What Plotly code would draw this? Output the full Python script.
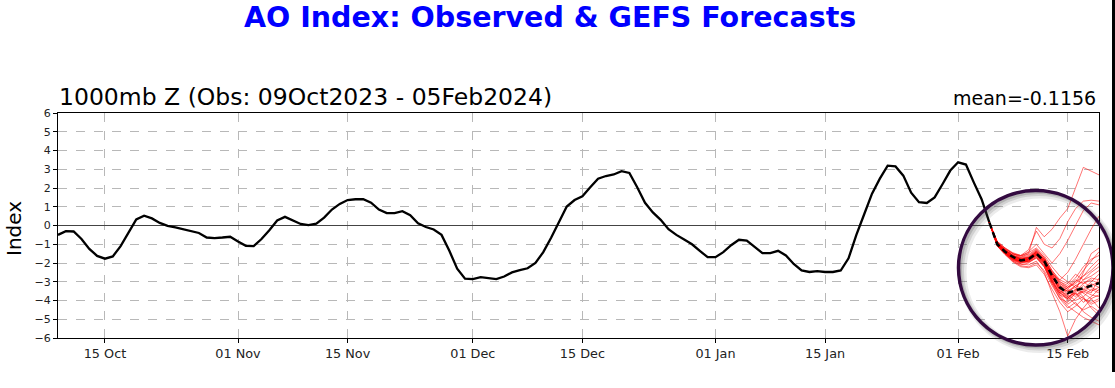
import pandas as pd
import plotly.graph_objects as go

# ---------------- data ----------------
obs_start = "2023-10-09"
obs_values = [
    -0.5, -0.3, -0.32, -0.72, -1.25, -1.62, -1.77, -1.65, -1.1, -0.35,
    0.32, 0.52, 0.38, 0.14, -0.02, -0.1, -0.2, -0.3, -0.4, -0.64,
    -0.67, -0.64, -0.6, -0.85, -1.08, -1.1, -0.72, -0.25, 0.27, 0.46,
    0.28, 0.08, 0.02, 0.1, 0.42, 0.85, 1.15, 1.36, 1.4, 1.4,
    1.22, 0.85, 0.66, 0.66, 0.76, 0.55, 0.12, -0.08, -0.21, -0.5,
    -1.35, -2.3, -2.84, -2.86, -2.75, -2.8, -2.86, -2.72, -2.5, -2.38,
    -2.28, -2.0, -1.42, -0.65, 0.18, 1.01, 1.36, 1.56, 2.04, 2.5,
    2.64, 2.72, 2.9, 2.8, 2.04, 1.21, 0.7, 0.3, -0.2, -0.5,
    -0.75, -1.0, -1.35, -1.69, -1.69, -1.42, -1.05, -0.76, -0.8, -1.12,
    -1.47, -1.47, -1.35, -1.6, -2.05, -2.4, -2.48, -2.43, -2.48, -2.48,
    -2.4, -1.75, -0.5, 0.6, 1.7, 2.5, 3.19, 3.15, 2.66, 1.75,
    1.24, 1.2, 1.5, 2.2, 2.93, 3.37, 3.25, 2.3, 1.4, 0.15,
]

fc_start = "2024-02-05"
fc_init = 0.15
gefs_members = [
    [-0.95, -1.3, -1.6, -1.7, -1.5, -0.1, -0.6, -0.2, 0.4, 0.9, 2.0, 3.1, 2.9, 2.7],
    [-1.0, -1.35, -1.55, -1.6, -1.3, -0.3, -1.0, -1.2, -0.7, 0.2, 0.9, 1.3, 1.35, 1.3],
    [-0.9, -1.25, -1.5, -1.65, -1.4, -1.0, -1.5, -2.0, -1.5, -0.8, 0.0, 0.8, 1.2, 1.1],
    [-1.05, -1.45, -1.8, -1.9, -1.75, -1.4, -1.9, -2.6, -2.9, -2.5, -1.8, -1.0, -0.2, 0.5],
    [-1.1, -1.5, -1.9, -2.1, -2.0, -1.7, -2.2, -3.0, -3.6, -3.9, -3.5, -2.5, -1.5, -1.2],
    [-0.85, -1.2, -1.45, -1.6, -1.55, -1.25, -1.7, -2.4, -3.0, -3.2, -2.8, -2.2, -1.8, -1.6],
    [-1.0, -1.45, -1.75, -1.95, -1.9, -1.6, -2.1, -3.0, -3.8, -4.3, -4.6, -4.9, -5.1, -5.3],
    [-1.05, -1.5, -1.85, -2.05, -2.1, -1.9, -2.5, -3.6, -4.6, -5.9, -5.0, -4.4, -3.9, -3.7],
    [-0.95, -1.35, -1.65, -1.8, -1.7, -1.45, -1.85, -2.5, -3.1, -3.4, -3.0, -2.7, -2.4, -2.0],
    [-1.0, -1.4, -1.7, -1.85, -1.8, -1.55, -2.0, -2.8, -3.4, -3.8, -4.2, -4.5, -4.3, -4.6],
    [-0.9, -1.3, -1.6, -1.75, -1.65, -1.35, -1.8, -2.6, -3.3, -3.5, -3.8, -3.4, -3.0, -2.6],
    [-1.1, -1.55, -1.9, -2.15, -2.2, -2.0, -2.4, -3.2, -3.9, -4.1, -3.6, -3.9, -4.1, -3.9],
    [-0.95, -1.35, -1.7, -1.9, -1.85, -1.5, -1.9, -2.6, -3.2, -3.5, -3.3, -3.6, -3.9, -4.4],
    [-1.0, -1.4, -1.75, -1.9, -1.8, -1.4, -1.8, -2.7, -3.5, -4.0, -3.6, -3.2, -3.5, -3.3],
    [-1.05, -1.45, -1.7, -1.85, -1.95, -1.75, -2.2, -3.1, -3.9, -4.4, -4.1, -4.6, -4.9, -5.1],
    [-0.9, -1.25, -1.5, -1.6, -1.45, -1.2, -1.6, -2.2, -2.7, -3.0, -3.3, -2.9, -2.5, -2.2],
    [-1.0, -1.4, -1.65, -1.8, -1.7, -1.45, -2.0, -2.9, -3.6, -3.3, -2.9, -3.1, -2.8, -2.9],
    [-1.05, -1.5, -1.85, -2.0, -1.95, -1.7, -2.1, -2.9, -3.5, -3.7, -4.0, -3.8, -3.4, -3.6],
    [-0.95, -1.3, -1.6, -1.8, -1.75, -1.5, -1.95, -2.8, -3.3, -3.6, -3.2, -3.0, -3.3, -3.5],
    [-1.0, -1.45, -1.8, -2.0, -1.9, -1.65, -2.2, -3.1, -3.7, -3.9, -3.4, -3.6, -3.2, -3.0],
    [-1.1, -1.55, -1.95, -2.2, -2.25, -2.1, -2.6, -3.4, -4.1, -4.6, -4.3, -3.9, -4.2, -4.0],
    [-0.85, -1.2, -1.5, -1.7, -1.6, -1.3, -1.7, -2.4, -2.9, -3.1, -2.6, -2.9, -2.7, -2.4],
    [-1.0, -1.4, -1.75, -1.9, -1.85, -1.6, -2.0, -2.7, -3.2, -3.4, -3.7, -3.5, -3.7, -3.8],
    [-0.95, -1.35, -1.65, -1.85, -1.8, -1.55, -2.0, -2.9, -3.7, -4.2, -3.9, -3.5, -3.1, -3.3],
    [-1.05, -1.45, -1.75, -1.9, -1.8, -1.5, -1.85, -2.5, -3.0, -3.3, -3.1, -2.7, -2.2, -1.8],
    [-1.0, -1.35, -1.65, -1.8, -1.7, -1.4, -1.8, -2.6, -3.3, -3.7, -3.4, -3.8, -4.4, -4.8],
    [-0.95, -1.3, -1.6, -1.8, -1.75, -1.45, -1.9, -2.7, -3.4, -3.9, -3.5, -3.1, -2.9, -3.1],
    [-1.0, -1.45, -1.8, -1.95, -1.9, -1.6, -2.1, -3.0, -3.6, -3.8, -3.6, -4.1, -3.8, -3.4],
    [-1.05, -1.5, -1.8, -1.95, -1.85, -1.55, -1.95, -2.8, -3.4, -3.5, -3.2, -3.4, -3.6, -2.8],
    [-0.9, -1.3, -1.6, -1.75, -1.7, -1.35, -1.75, -2.5, -3.1, -3.3, -3.0, -2.4, -1.9, -1.4],
]
gefs_mean = [-1.0, -1.4, -1.68, -1.86, -1.8, -1.5, -1.9, -2.66, -3.3, -3.6, -3.45, -3.35, -3.2, -3.07]

x_tick_dates = ["2023-10-15", "2023-11-01", "2023-11-15", "2023-12-01", "2023-12-15",
                "2024-01-01", "2024-01-15", "2024-02-01", "2024-02-15"]
x_tick_labels = ["15 Oct", "01 Nov", "15 Nov", "01 Dec", "15 Dec",
                 "01 Jan", "15 Jan", "01 Feb", "15 Feb"]
y_ticks = list(range(-6, 7))

title_text = "AO Index: Observed & GEFS Forecasts"
subtitle_text = "1000mb Z (Obs: 09Oct2023 - 05Feb2024)"
mean_text = "mean=-0.1156"
y_label = "Index"

# ---------------- figure ----------------
W, H = 1115, 388
ML, MR, MT, MB = 58, 16, 113, 50
PW, PH = W - ML - MR, H - MT - MB


def px_x(p):
    return (p - ML) / PW


def px_y(p):
    return (H - MB - p) / PH


obs_dates = pd.date_range(obs_start, periods=len(obs_values), freq="D")
fc_dates = pd.date_range(fc_start, periods=len(gefs_mean) + 1, freq="D")

fig = go.Figure()
fig.add_trace(go.Scatter(x=obs_dates, y=obs_values, mode="lines",
                         line=dict(color="black", width=2.3), showlegend=False))
for m in gefs_members:
    fig.add_trace(go.Scatter(x=fc_dates, y=[fc_init] + m, mode="lines",
                             line=dict(color="rgba(255,0,0,0.55)", width=1),
                             showlegend=False))
fig.add_trace(go.Scatter(x=fc_dates, y=[fc_init] + gefs_mean, mode="lines",
                         line=dict(color="black", width=2.5, dash="6px,4px"),
                         showlegend=False))

font_family = "DejaVu Sans"

# circle highlight (with soft shadow)
cx0, cx1, cy0, cy1 = 958.5, 1113.0, 190.5, 345.0
for off, w, a in [(4, 8, 0.10), (3, 5, 0.15), (2, 3, 0.2)]:
    fig.add_shape(type="circle", xref="paper", yref="paper",
                  x0=px_x(cx0 + off), x1=px_x(cx1 + off),
                  y0=px_y(cy1 + off), y1=px_y(cy0 + off),
                  line=dict(color=f"rgba(60,60,60,{a})", width=w), layer="above")
fig.add_shape(type="circle", xref="paper", yref="paper",
              x0=px_x(cx0), x1=px_x(cx1), y0=px_y(cy1), y1=px_y(cy0),
              line=dict(color="#330a40", width=3.5), layer="above")

# right-hand dark edge of the source image
fig.add_shape(type="line", xref="paper", yref="paper",
              x0=px_x(1113.5), x1=px_x(1113.5), y0=px_y(0), y1=px_y(372),
              line=dict(color="black", width=3), layer="above")

fig.add_annotation(text=title_text, xref="paper", yref="paper",
                   x=px_x(550), y=px_y(18), xanchor="center", yanchor="middle",
                   showarrow=False,
                   font=dict(family=font_family, size=28.5, color="#0000ff", weight="bold"))
fig.add_annotation(text=subtitle_text, xref="paper", yref="paper",
                   x=px_x(57), y=px_y(96.5), xanchor="left", yanchor="middle",
                   showarrow=False, font=dict(family=font_family, size=23.5, color="black"))
fig.add_annotation(text=mean_text, xref="paper", yref="paper",
                   x=px_x(1098), y=px_y(98), xanchor="right", yanchor="middle",
                   showarrow=False, font=dict(family=font_family, size=19, color="black"))
fig.add_annotation(text=y_label, xref="paper", yref="paper",
                   x=px_x(14), y=px_y(229), xanchor="center", yanchor="middle",
                   textangle=-90, showarrow=False,
                   font=dict(family=font_family, size=20, color="black"))

fig.update_layout(
    width=W, height=H,
    margin=dict(l=ML, r=MR, t=MT, b=MB, pad=0),
    paper_bgcolor="white", plot_bgcolor="white",
    font=dict(family=font_family, color="black"),
    showlegend=False,
    hovermode=False,
)
fig.update_xaxes(
    type="date", range=["2023-10-09", "2024-02-19"],
    tickmode="array", tickvals=x_tick_dates, ticktext=x_tick_labels,
    tickfont=dict(size=12.8, color="#222"),
    ticks="outside", ticklen=4, tickcolor="black", tickwidth=1,
    showline=True, linecolor="black", linewidth=1, mirror=True,
    showgrid=True, gridcolor="#b8b8b8", gridwidth=0.8, griddash="dash",
    zeroline=False,
)
fig.update_yaxes(
    range=[-6, 6], tickmode="array", tickvals=y_ticks,
    tickfont=dict(size=11, color="#222"),
    ticks="outside", ticklen=4, tickcolor="black", tickwidth=1,
    showline=True, linecolor="black", linewidth=1, mirror=True,
    showgrid=True, gridcolor="#b8b8b8", gridwidth=0.8, griddash="dash",
    zeroline=True, zerolinecolor="#444", zerolinewidth=1,
)

# remove the browser's default page margin so the figure sits at the page origin
fig.write_html("out.html", config={"displayModeBar": False},
               post_script="document.body.style.margin = '0px';")
